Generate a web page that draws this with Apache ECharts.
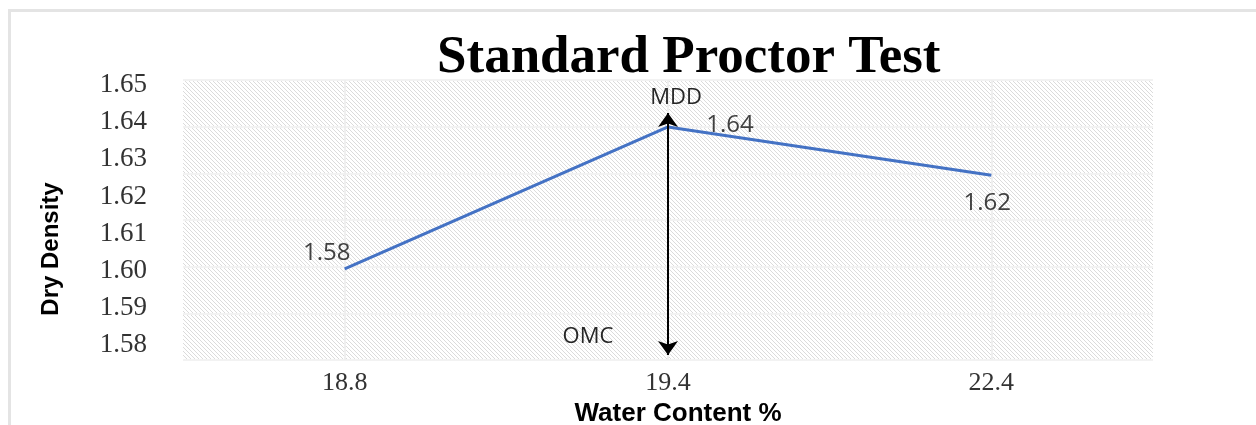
<!DOCTYPE html>
<html>
<head>
<meta charset="utf-8">
<script src="https://cdn.jsdelivr.net/npm/echarts@6/dist/echarts.min.js"></script>
<style>
  html, body { margin: 0; padding: 0; background: #fff; }
  #wrap { position: relative; width: 1256px; height: 425px; }
  #main { width: 1256px; height: 425px; }
  #frame {
    position: absolute; left: 8px; top: 9px; right: 0; bottom: 0;
    border-top: 3px solid #e4e4e4; border-left: 3px solid #e4e4e4;
    pointer-events: none;
  }
</style>
</head>
<body>
<div id="wrap">
  <div id="main"></div>
  <div id="frame"></div>
</div>
<script>
// data
var categories = ['18.8', '19.4', '22.4'];
var dryDensity = [1.6005, 1.6387, 1.6257];
var pointLabels = ['1.58', '1.64', '1.62'];
var yMin = 1.58, yMax = 1.65, yStep = 0.01;
var peakIndex = 1;
// arrow ends on the background grid scale (0..6 bands)
var arrowEnds = [0.107, 5.293];
var noteNames = ['MDD', 'OMC'];
var noteValues = [1.6465, 1.5822];

// diagonal hatch for plot background
function hatch() {
  var c = document.createElement('canvas');
  c.width = 4; c.height = 4;
  var g = c.getContext('2d');
  g.fillStyle = '#ffffff';
  g.fillRect(0, 0, 4, 4);
  g.strokeStyle = '#dbdbdb';
  g.lineWidth = 1;
  for (var k = -1; k <= 1; k++) {
    g.beginPath();
    g.moveTo(k * 4 - 1, -1);
    g.lineTo(k * 4 + 5, 5);
    g.stroke();
  }
  return c;
}

var labelOffsets = [[-18, -16], [62, -2], [-4, 28]];
var noteOffsets = [[8, 0], [-80, 0]];

var myChart = echarts.init(document.getElementById('main'));
var option = {
  animation: false,
  title: {
    text: 'Standard Proctor Test',
    left: 432,
    top: 27,
    textStyle: { fontFamily: 'Liberation Serif', fontWeight: 'bold', fontSize: 53, color: '#000' }
  },
  grid: [
    { left: 183, right: 103, top: 80, bottom: 65, show: true, borderWidth: 0,
      outerBoundsMode: 'none', containLabel: false,
      backgroundColor: { image: hatch(), repeat: 'repeat' } },
    { left: 183, right: 103, top: 85, bottom: 80, outerBoundsMode: 'none', containLabel: false }
  ],
  xAxis: [
    {
      gridIndex: 0, type: 'category', data: categories, boundaryGap: true,
      axisLine: { show: false }, axisTick: { show: false },
      axisLabel: { margin: 10, fontFamily: 'Liberation Serif', fontSize: 26, color: '#333' },
      splitLine: { show: true, alignWithLabel: true, lineStyle: { color: '#efefef', width: 2 } },
      name: 'Water Content %', nameLocation: 'middle', nameGap: 36,
      nameTextStyle: { fontFamily: 'Liberation Sans', fontWeight: 'bold', fontSize: 26, color: '#000', padding: [0, 0, 0, 20] }
    },
    {
      gridIndex: 1, type: 'category', data: categories, boundaryGap: true, show: false
    }
  ],
  yAxis: [
    {
      gridIndex: 0, type: 'value', min: 0, max: 6, interval: 1,
      axisLine: { show: false }, axisTick: { show: false }, axisLabel: { show: false },
      splitLine: { show: true, lineStyle: { color: '#f2f2f2', width: 2 } }
    },
    {
      gridIndex: 1, type: 'value', min: yMin, max: yMax, interval: yStep,
      axisLine: { show: false }, axisTick: { show: false }, splitLine: { show: false },
      axisLabel: {
        margin: 36, fontFamily: 'Liberation Serif', fontSize: 27, color: '#333',
        formatter: function (v) { return v.toFixed(2); }
      },
      name: 'Dry Density', nameLocation: 'middle', nameRotate: 90, nameGap: 120,
      nameTextStyle: { fontFamily: 'Liberation Sans', fontWeight: 'bold', fontSize: 24, color: '#000', padding: [0, 68, 0, 0] }
    }
  ],
  series: [
    {
      type: 'line',
      xAxisIndex: 0, yAxisIndex: 0,
      data: [],
      silent: true,
      markLine: {
        silent: true,
        symbol: ['arrow', 'arrow'],
        symbolSize: [15, 14],
        lineStyle: { color: '#000', width: 2, type: 'solid' },
        label: { show: false },
        data: [[{ coord: [peakIndex, arrowEnds[0]] }, { coord: [peakIndex, arrowEnds[1]] }]]
      }
    },
    {
      type: 'line',
      xAxisIndex: 1, yAxisIndex: 1,
      clip: false,
      symbol: 'circle', symbolSize: 0, showSymbol: true,
      itemStyle: { color: '#4472C4' },
      lineStyle: { color: '#4472C4', width: 3 },
      label: { show: true, position: 'inside', fontFamily: 'Open Sans', fontSize: 24, color: '#404040' },
      data: dryDensity.map(function (v, i) {
        return { value: v, label: { formatter: pointLabels[i], offset: labelOffsets[i] } };
      }),
      markPoint: {
        silent: true,
        symbol: 'circle', symbolSize: 0,
        label: { show: true, position: 'inside', formatter: '{b}', fontFamily: 'Open Sans', fontSize: 22, color: '#262626' },
        data: noteNames.map(function (n, i) {
          return { name: n, coord: [peakIndex, noteValues[i]], label: { offset: noteOffsets[i] } };
        })
      }
    }
  ]
};
option && myChart.setOption(option);
</script>
</body>
</html>
